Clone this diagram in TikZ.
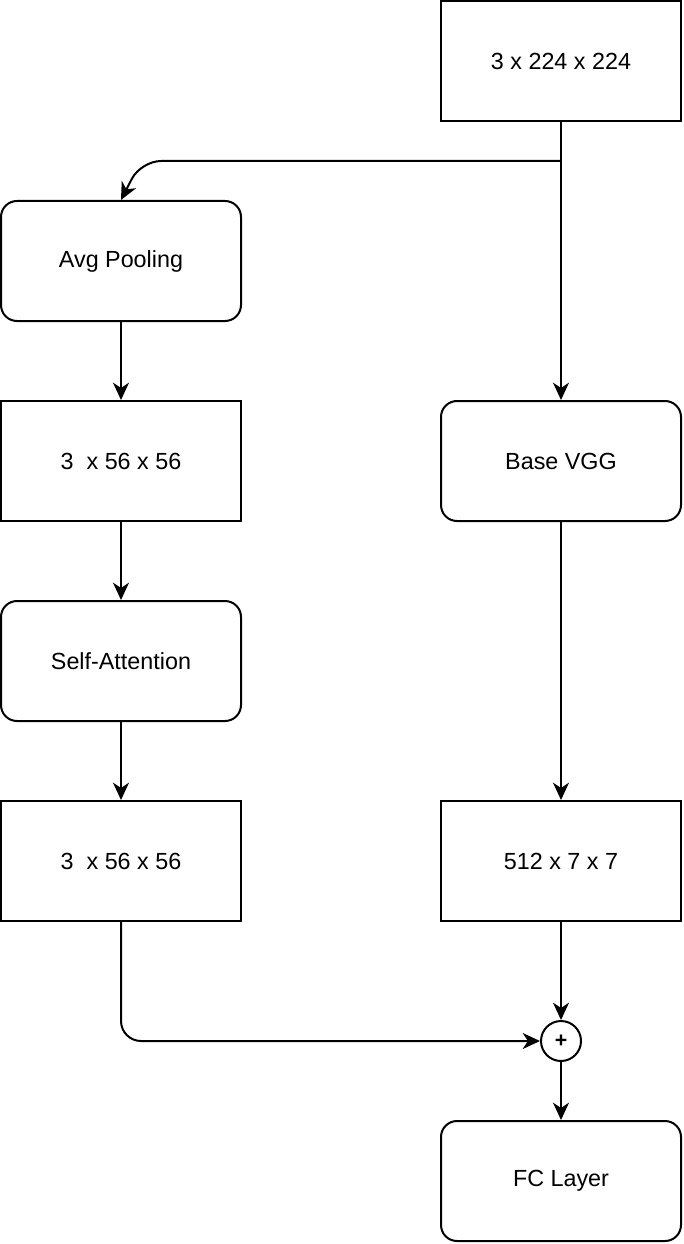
\documentclass[tikz,border=0pt]{standalone}
\usepackage{fontspec}
\setmainfont{Liberation Sans}
\usetikzlibrary{arrows.meta}
\tikzset{
  block/.style={draw, line width=1.5pt, minimum width=180pt, minimum height=90pt, inner sep=0pt, font=\fontsize{17.5}{21}\selectfont},
  rblock/.style={block, rounded corners=12pt},
  sum/.style={draw, circle, line width=1.5pt, minimum size=30pt, inner sep=0pt, font=\bfseries\fontsize{16}{18}\selectfont},
  flow/.style={-{Stealth[length=13pt, width=12pt, inset=4pt]}, line width=1.5pt}
}

\begin{document}
\begin{tikzpicture}[x=0.75pt, y=-0.75pt] % pixel coordinates
\useasboundingbox (0,0) rectangle (684,1244);

\node[block]  (input)    at (561,61)   {3 x 224 x 224};
\node[rblock] (avgpool)  at (121,261)  {Avg Pooling};
\node[block]  (pooled)   at (121,461)  {3\ \ x 56 x 56};
\node[rblock] (attn)     at (121,661)  {Self-Attention};
\node[block]  (attended) at (121,861)  {3\ \ x 56 x 56};
\node[rblock] (vgg)      at (561,461)  {Base VGG};
\node[block]  (features) at (561,861)  {512 x 7 x 7};
\node[sum]    (plus)     at (561,1041) {+};
\node[rblock] (fc)       at (561,1181) {FC Layer};

\coordinate (split) at (561,161);

\draw[flow] (input) -- (vgg);
\draw[flow, rounded corners=15pt] (split) -- (141,161) -- (avgpool.north);
\foreach \a/\b in {avgpool/pooled, pooled/attn, attn/attended, vgg/features, features/plus, plus/fc}
{
    \draw[flow] (\a) -- (\b);
}
\draw[flow, rounded corners=15pt] (attended.south) |- (plus);
\end{tikzpicture}
\end{document}
